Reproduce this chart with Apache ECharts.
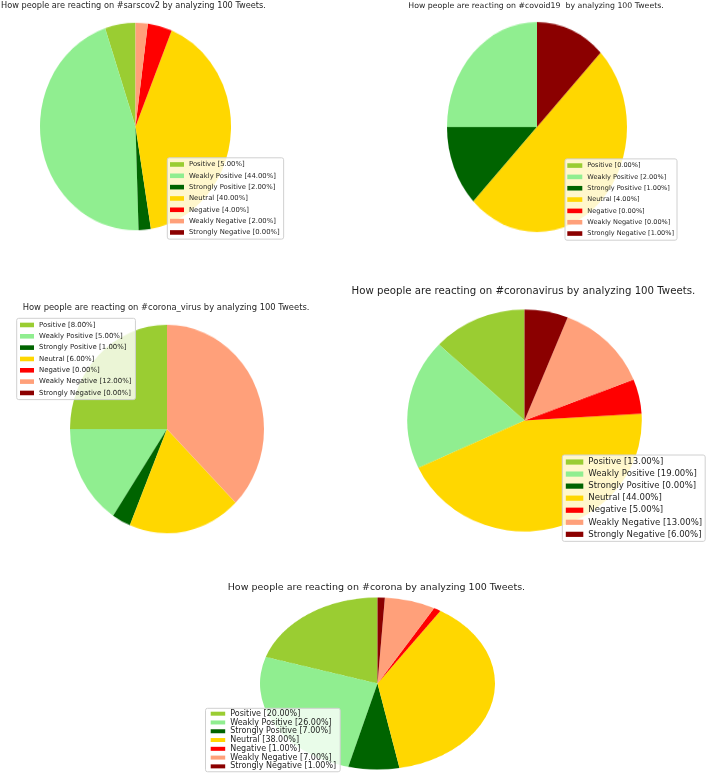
<!DOCTYPE html>
<html><head><meta charset="utf-8">
<script src="https://cdn.jsdelivr.net/npm/echarts@6/dist/echarts.min.js"></script>
<style>
html,body{margin:0;padding:0;background:#fff;}
#wrap{position:relative;width:708px;height:774px;overflow:hidden;background:#fff;}
.pie{position:absolute;z-index:1;}
#overlay{position:absolute;left:0;top:0;width:708px;height:774px;z-index:2;}
</style></head><body><div id="wrap"><div id="overlay"></div></div>
<script>
// ---- data ----
const categories = ['Positive','Weakly Positive','Strongly Positive','Neutral','Negative','Weakly Negative','Strongly Negative'];
const sarscov2    = [5, 44, 2, 40, 4, 2, 0];
const covoid19    = [0, 2, 1, 4, 0, 0, 1];
const coronaVirus = [8, 5, 1, 6, 0, 12, 0];
const coronavirus = [13, 19, 0, 44, 5, 13, 6];
const corona      = [20, 26, 7, 38, 1, 7, 1];
const titles = [
  'How people are reacting on #sarscov2 by analyzing 100 Tweets.',
  'How people are reacting on #covoid19  by analyzing 100 Tweets.',
  'How people are reacting on #corona_virus by analyzing 100 Tweets.',
  'How people are reacting on #coronavirus by analyzing 100 Tweets.',
  'How people are reacting on #corona by analyzing 100 Tweets.'
];
const seriesValues = [sarscov2, covoid19, coronaVirus, coronavirus, corona];
const colors = ['#9ACD32','#90EE90','#006400','#FFD700','#FF0000','#FFA07A','#8B0000'];

// ---- layout (positions / styles) ----
const layout = [
  {cx:135.5, cy:126.4, rx:95.5, ry:103.7, tl:1,     ty:6,     tf:8.2,
   lg:{left:167.3, top:157.8, fs:6.85, lh:11.33, iw:14, ih:4.6, pad:[1,4,1,2.7]}},
  {cx:536.7, cy:127.3, rx:90,   ry:105,   tl:408.3, ty:5.7,   tf:7.8,
   lg:{left:565,   top:158.9, fs:6.55, lh:11.33, iw:15, ih:4.6, pad:[1,3,1,2.3]}},
  {cx:166.8, cy:429,   rx:97,   ry:104.2, tl:22.7,  ty:307.3, tf:8.4,
   lg:{left:16.7,  top:318.3, fs:6.95, lh:11.33, iw:14, ih:4.6, pad:[1,4,1,3.3]}},
  {cx:524,   cy:420.5, rx:117.3,ry:111,   tl:351.5, ty:291.3, tf:10.2,
   lg:{left:562.3, top:455,   fs:8.55, lh:12.05, iw:17.5, ih:5.2, pad:[1,3,1,3.5]}},
  {cx:377.7, cy:683.5, rx:117.5,ry:86,    tl:227.7, ty:587.3, tf:9.5,
   lg:{left:205.5, top:708.3, fs:8.0, lh:8.78, iw:14.5, ih:4, pad:[1,4,1,5.2]}}
];

const wrap = document.getElementById('wrap');
const FONT = 'DejaVu Sans';

// ---- pies (each in its own instance, stretched to the reference's ellipse) ----
layout.forEach((L, i) => {
  const W = Math.ceil(2 * L.rx + 8);
  const d = document.createElement('div');
  d.className = 'pie';
  d.style.width = W + 'px';
  d.style.height = W + 'px';
  d.style.left = (L.cx - W / 2) + 'px';
  d.style.top = (L.cy - W / 2) + 'px';
  d.style.transformOrigin = '50% 50%';
  d.style.transform = 'scaleY(' + (L.ry / L.rx) + ')';
  wrap.insertBefore(d, wrap.firstChild);
  const c = echarts.init(d, null, {renderer: 'canvas'});
  c.setOption({
    animation: false,
    color: colors,
    series: [{
      type: 'pie',
      center: ['50%', '50%'],
      radius: L.rx,
      startAngle: 90,
      clockwise: false,
      silent: true,
      label: {show: false},
      labelLine: {show: false},
      itemStyle: {borderWidth: 0},
      emphasis: {disabled: true},
      data: categories.map((n, j) => ({name: n, value: seriesValues[i][j]}))
    }]
  });
});

// ---- titles and legends ----
const ov = echarts.init(document.getElementById('overlay'), null, {renderer: 'canvas'});
ov.setOption({
  animation: false,
  color: colors,
  title: layout.map((L, i) => ({
    text: titles[i],
    left: L.tl,
    top: L.ty - L.tf / 2 + 0.3,
    padding: 0,
    textStyle: {fontFamily: FONT, fontSize: L.tf, fontWeight: 'normal', color: '#1e1e1e'}
  })),
  legend: layout.map((L, i) => ({
    orient: 'vertical',
    left: L.lg.left,
    top: L.lg.top,
    icon: 'rect',
    itemWidth: L.lg.iw,
    itemHeight: L.lg.ih,
    itemGap: 0,
    padding: L.lg.pad,
    selectedMode: false,
    backgroundColor: 'rgba(255,255,255,0.8)',
    borderColor: '#d0d0d0',
    borderWidth: 1,
    borderRadius: 2,
    textStyle: {fontFamily: FONT, fontSize: L.lg.fs, lineHeight: L.lg.lh, color: '#1e1e1e'},
    formatter: name => name + ' [' + seriesValues[i][categories.indexOf(name)].toFixed(2) + '%]',
    data: categories
  })),
  series: [{
    type: 'pie',
    radius: 0,
    silent: true,
    label: {show: false},
    labelLine: {show: false},
    data: categories.map(n => ({name: n, value: 1}))
  }]
});
</script></body></html>
